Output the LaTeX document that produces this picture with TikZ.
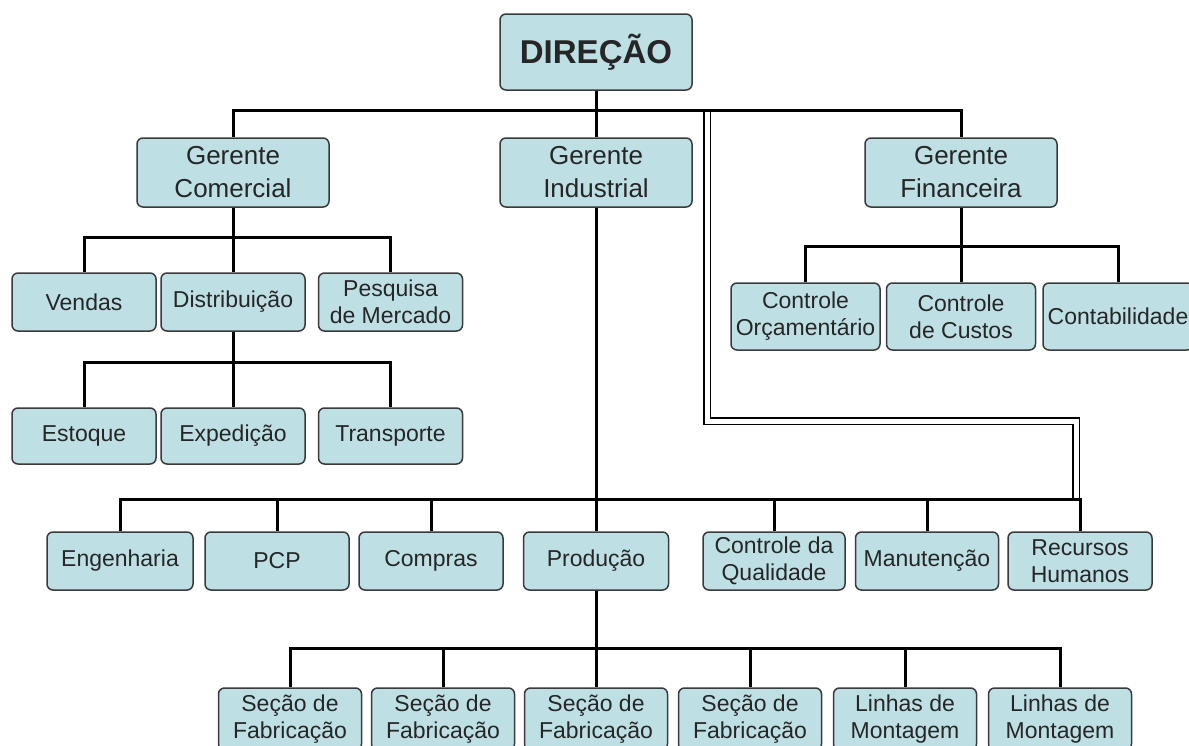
\documentclass[tikz,border=0pt]{standalone}
\usepackage{fontspec}
\setmainfont{Liberation Sans}
\definecolor{BoxFill}{RGB}{190,224,229}
\definecolor{BoxLine}{HTML}{3A3A3A}
\definecolor{BoxText}{HTML}{262626}

\begin{document}
\begin{tikzpicture}[
    x=1pt, y=-1pt,
    unit/.style={draw=BoxLine, fill=BoxFill, rounded corners=6pt, line width=1.5pt,
      inner sep=0pt, align=center, text=BoxText, font=\fontsize{23}{27}\selectfont},
    mgr/.style={unit, minimum width=192pt, minimum height=69pt, font=\fontsize{26}{33}\selectfont},
    conn/.style={line width=3pt, black},
    staff/.style={double=white, double distance=5pt, line width=1.4pt, black},
  ]
  \useasboundingbox (0,0) rectangle (1189,745);
  \clip (0,0) rectangle (1189,745);
  \fill[white] (0,0) rectangle (1189,745);

  \node[unit, minimum width=192pt, minimum height=76pt, font=\fontsize{33}{38}\selectfont\bfseries] (dir) at (596,52) {DIREÇÃO};
  \node[mgr] (gcom) at (233,172.5) {Gerente\\Comercial};
  \node[mgr] (gind) at (596,172.5) {Gerente\\Industrial};
  \node[mgr] (gfin) at (961,172.5) {Gerente\\Financeira};

  \foreach \nm/\cx/\txt in {vend/84/Vendas, dist/233/Distribuição, pesq/390.5/{Pesquisa\\de Mercado}}
    \node[unit, minimum width=144pt, minimum height=58pt] (\nm) at (\cx,302) {\txt};
  \foreach \nm/\cx/\txt in {estq/84/Estoque, expd/233/Expedição, trsp/390.5/Transporte}
    \node[unit, minimum width=144pt, minimum height=56pt] (\nm) at (\cx,436) {\txt};

  \foreach \nm/\cx/\bw/\txt in {corc/805.5/149/{Controle\\Orçamentário}, ccus/961/149/{Controle\\de Custos},
      ctab/1118/150/Contabilidade}
    \node[unit, minimum width=\bw pt, minimum height=67pt] (\nm) at (\cx,316.5) {\txt};

  \foreach \nm/\cx/\bw/\txt in {eng/120/146/Engenharia, pcp/277/144/PCP, comp/431/144/Compras,
      prod/596/145/Produção, cq/774/142/{Controle da\\Qualidade}, manu/927/143/Manutenção,
      rh/1080/144/{Recursos\\Humanos}}
    \node[unit, minimum width=\bw pt, minimum height=58pt] (\nm) at (\cx,561) {\txt};

  \foreach \i/\cx/\txt in {1/290/{Seção de\\Fabricação}, 2/443/{Seção de\\Fabricação},
      3/596/{Seção de\\Fabricação}, 4/750/{Seção de\\Fabricação},
      5/905/{Linhas de\\Montagem}, 6/1060/{Linhas de\\Montagem}}
    \node[unit, minimum width=143pt, minimum height=62pt] (sec\i) at (\cx,719) {\txt};

  \coordinate (staffTop) at (707,110);
  \coordinate (staffEnd) at (1076,499);
  \draw[staff] (staffTop) -- ++(0,311) -| (staffEnd);

  \foreach \nm in {gcom,gind,gfin}
    \draw[conn] (dir.south) -- ++(0,20) -| (\nm.north);
  \foreach \nm in {vend,dist,pesq}
    \draw[conn] (gcom.south) -- ++(0,30) -| (\nm.north);
  \foreach \nm in {estq,expd,trsp}
    \draw[conn] (dist.south) -- ++(0,31) -| (\nm.north);
  \foreach \nm in {corc,ccus,ctab}
    \draw[conn] (gfin.south) -- ++(0,39) -| (\nm.north);
  \foreach \nm in {eng,pcp,comp,prod,cq,manu,rh}
    \draw[conn] (gind.south) -- ++(0,292) -| (\nm.north);
  \foreach \i in {1,...,6}
    \draw[conn] (prod.south) -- ++(0,58) -| (sec\i.north);
\end{tikzpicture}
\end{document}
